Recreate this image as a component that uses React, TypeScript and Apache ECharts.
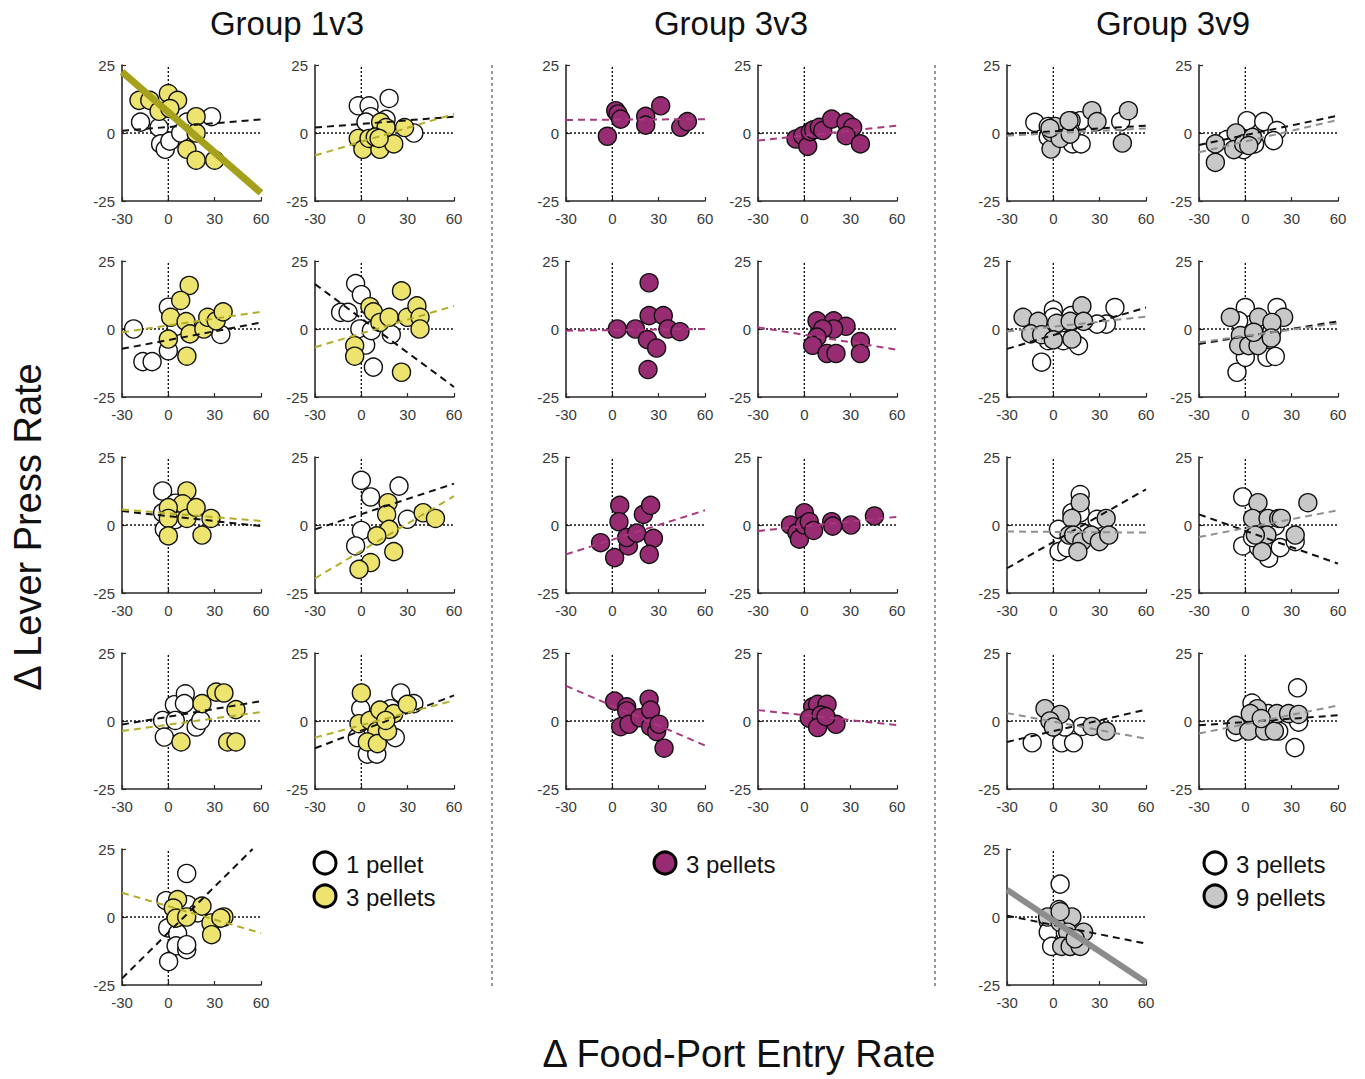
import React, { useEffect, useRef } from "react";
import * as echarts from "echarts";

// Axis ranges and ticks shared by every panel
const xRange = [-30, 60];
const yRange = [-25, 25];
const xStep = 30;
const yStep = 25;

const groupTitles = ["Group 1v3", "Group 3v3", "Group 3v9"];
const legend1v3 = ["1 pellet", "3 pellets"];
const legend3v3 = ["3 pellets"];
const legend3v9 = ["3 pellets", "9 pellets"];

// ---- Group 1v3: white = 1 pellet, yellow = 3 pellets ----
const g13p1One = [[-18, 4], [-6, 2], [-5, -4], [-2, -6], [28, 6], [1, -3], [12, 4], [1, 9], [8, 0]];
const g13p1Three = [[-19, 12], [-12, 12], [-6, 8], [0, 14.5], [6, 12], [1, 9], [18, 6], [18, 0], [12, -6], [18, -10], [30, -10]];
const g13p1FitOne = [[-30, 0.8], [60, 5]];
const g13p1FitThree = [[-30, 22.5], [60, -22]];

const g13p2One = [[-2, 10], [5, 10], [18, 12.7], [6, 6], [3, 4], [34, 0], [16, 5]];
const g13p2Three = [[-2, -2], [1, -6], [5, -2], [12, -6], [21, -4], [28, 2], [12.5, 4], [16, 2], [9, -1.5], [11.5, -2]];
const g13p2FitOne = [[-30, 2], [60, 6]];
const g13p2FitThree = [[-30, -8.3], [60, 7]];

const g13p3One = [[-22.5, 0], [-16.5, -12], [-10.5, -12], [0, 8], [0, -8], [5, 1], [34, -2]];
const g13p3Three = [[13.5, 16], [8, 10.5], [1.5, 4.3], [11.5, 2.7], [0, -3.7], [14, -1.8], [12, -10], [23, 0], [25.5, 4.3], [31, 3], [35.5, 6.3]];
const g13p3FitOne = [[-30, -7.3], [60, 2.4]];
const g13p3FitThree = [[-30, -1.2], [60, 6.3]];

const g13p4One = [[-3.7, 16.7], [0, 12.6], [-13.4, 6.1], [-8.6, 6.1], [-1, 0], [2.8, -5.9], [7.8, -14], [6.5, -0.6], [19.4, -2]];
const g13p4Three = [[5.6, 8.2], [7.8, 6.3], [12, 2.4], [18, 4.3], [26, 14], [26, -15.9], [29.8, 4.3], [36, 8.5], [38, 4.3], [38, 0], [-4.3, -6.1], [-4.3, -10]];
const g13p4FitOne = [[-30, 16.5], [60, -21.3]];
const g13p4FitThree = [[-30, -6.7], [60, 8.5]];

const g13p5One = [[-3.7, 12.5], [-3.7, 4.5], [-2.6, -1.6], [4.5, 2], [4.5, 8]];
const g13p5Three = [[12, 12.5], [9.3, 7.8], [0, 6.4], [0, 2.4], [12, 2.4], [18, 6.4], [27.6, 2.4], [21.8, -3.7], [0, -4]];
const g13p5FitOne = [[-30, 5.1], [60, -0.4]];
const g13p5FitThree = [[-30, 5.7], [60, 1.5]];

const g13p6One = [[0, 16.4], [6, 10.3], [24.4, 14.3], [0, -2], [-3.7, -7.7], [29.8, 2.1]];
const g13p6Three = [[17.3, 8.2], [16.4, 3.9], [18, -1.6], [10, -4], [21, -9.8], [6, -13.8], [-1.5, -16.3], [40, 4.5], [48, 2.4]];
const g13p6FitOne = [[-30, -1.6], [60, 15.2]];
const g13p6FitThree = [[-30, -19.6], [60, 10.6]];

const g13p7One = [[-3.7, 0.2], [-2.6, -5.9], [3.9, 6], [11, 10], [10.4, 6.4], [4.5, 0.2], [18, -2.2], [21, 0.2]];
const g13p7Three = [[8.2, -7.7], [21.8, 6.4], [31, 10.6], [36, 10.3], [43.8, 4.2], [38.4, -7.7], [43.8, -7.7]];
const g13p7FitOne = [[-30, -1.3], [60, 7.3]];
const g13p7FitThree = [[-30, -3.7], [60, 3.3]];

const g13p8One = [[-0.4, 4.5], [-2.6, -6.1], [3.9, -12.2], [10, -12.2], [25.5, 10.3], [34, 6.4], [22, -6.1], [19, 4.5]];
const g13p8Three = [[0, 10.3], [-1.5, -1], [5.6, 0.2], [12, 4], [10, -3.7], [3.9, -7.7], [10.4, -8.3], [17, -3.7], [21, 2.7], [29.8, 6.1], [15.8, 0.2]];
const g13p8FitOne = [[-30, -10], [60, 9.4]];
const g13p8FitThree = [[-30, -6.1], [60, 7.6]];

const g13p9One = [[11.9, 16], [-1.5, 6], [-0.4, -4], [6, -6], [5, -10.6], [11.9, -12], [11.9, -10.2], [0.2, -16.4], [12.5, 4.5], [19, 1.5]];
const g13p9Three = [[6, 6.4], [3.2, 3.3], [5, -0.4], [11.9, 0], [21.8, 4], [27.6, -2.2], [28, -6.5], [36, 0], [34, -0.4]];
const g13p9FitOne = [[-30, -22.6], [54.6, 25]];
const g13p9FitThree = [[-30, 8.9], [60, -5.9]];

// ---- Group 3v3: purple = 3 pellets ----
const g33p1 = [[-3.2, -1.2], [2.2, 8.2], [3.7, 7], [5.4, 5.1], [21.6, 6.1], [21.6, 2.9], [31.3, 10], [44.3, 2.1], [48.6, 4.2]];
const g33p1Fit = [[-30, 4.8], [60, 5.1]];
const g33p2 = [[-5.4, -2.2], [-1, -1], [2.2, -4.9], [3.9, 0.5], [6, 1.2], [9.7, 2.1], [11.9, 0.9], [17.7, 5.1], [27, 3.9], [31.3, 2.1], [27, -1], [36.3, -4]];
const g33p2Fit = [[-30, -2.8], [60, 2.7]];
const g33p3 = [[3.2, 0], [15, 0], [23.8, 17], [23.8, 4.9], [33, 4.9], [36, 0], [43.8, -1], [22.7, -3.9], [28.7, -7], [23.1, -14.9]];
const g33p3Fit = [[-30, -0.6], [60, 0]];
const g33p4 = [[8.2, 3], [19, 3], [27, 1], [19, 0], [11.9, 0], [8.2, -3], [5.4, -6], [14.7, -9], [20.5, -9], [36.3, -4.6], [36.3, -9]];
const g33p4Fit = [[-30, 0.6], [60, -7.6]];
const g33p5 = [[-7.6, -6.5], [4.8, 7.2], [4.3, 1.2], [1.5, -12], [10.4, -7.7], [9.3, -4.6], [15.8, -3], [20.1, 3.9], [24.8, 7.2], [26.6, -4.9], [23.9, -10.8]];
const g33p5Fit = [[-30, -10.8], [60, 5.4]];
const g33p6 = [[-9, 0], [-4.8, -2.8], [-3.2, -5.2], [0, 4.5], [0, 0], [3.2, 1.2], [6, -2], [17.7, 1.2], [18.4, -0.4], [30.2, 0], [45.4, 3.3]];
const g33p6Fit = [[-30, -2.2], [60, 3]];
const g33p7 = [[1.5, 7.3], [9.3, 5.2], [9.3, 3.7], [5.4, -2.1], [10.8, -1.2], [17.9, 1.2], [23.8, 8], [24.8, 4], [24.8, -2.1], [28.7, -3.9], [30.2, -1.2], [33.5, -10]];
const g33p7Fit = [[-30, 12.9], [60, -9]];
const g33p8 = [[5.4, 5.2], [8.6, 6.1], [14.7, 6.1], [3.2, 1], [10.8, 2.2], [8.6, -2.4], [20.5, -1.2], [14, 1.6]];
const g33p8Fit = [[-30, 4], [60, -1.5]];

// ---- Group 3v9: white = 3 pellets, grey = 9 pellets ----
const g39p1Three = [[-12, 3.9], [-3.3, 2.4], [17.4, 4.5], [11.5, 4.5], [12.4, -4], [18, -4], [43.6, 4.2], [-3.3, -1.6], [10.9, 0.9]];
const g39p1Nine = [[-1.5, -5.9], [-1.1, 0.2], [1.1, 2.4], [4.4, -2], [10.9, -0.4], [10.2, 4.5], [25, 8.2], [28.3, 4.2], [48.6, 8.2], [44.7, -3.7], [-2.2, 1.7]];
const g39p1FitThree = [[-30, -0.4], [60, 2.7]];
const g39p1FitNine = [[-30, -1], [60, 1.7]];

const g39p2Three = [[1.1, 4.5], [11.9, 4.2], [20.5, 0.9], [18.3, -2.8], [-4.7, -1], [-1.1, -6.1], [6, -4], [-11.9, -2.4]];
const g39p2Nine = [[-19.4, -4], [-19.4, -10.8], [-6, 0], [-7.5, -6.1], [-1.1, -4], [4.7, -1.6], [2.2, -4.6]];
const g39p2FitThree = [[-30, -4.4], [60, 6.4]];
const g39p2FitNine = [[-30, -7.1], [60, 4.8]];

const g39p3Three = [[0, 7], [0, 4.3], [-7.6, -12.2], [16.3, -6.1], [11.5, 4.9], [39.9, 7.9], [34.3, 1.8], [28.3, 1.8], [6.5, -4.3], [-3.3, -4.3]];
const g39p3Nine = [[-19.6, 4.3], [-9.8, 2.8], [-14.6, -1.8], [-7.6, -2.1], [2.2, 2.1], [0, -4], [10.9, 2.8], [12, -3.7], [18.5, 8.5], [19.6, 2.8]];
const g39p3FitThree = [[-30, -7.3], [60, 7.9]];
const g39p3FitNine = [[-30, -0.9], [60, 4.5]];

const g39p4Three = [[0, 7.9], [20.5, 7.9], [-5.4, -15.9], [0, -10.4], [14, -10.4], [19.4, -10.1], [-4.3, 3], [17.2, -0.6]];
const g39p4Nine = [[-9.7, 4.3], [8.6, 4.3], [24.8, 4.3], [17.2, 2.4], [-3.2, -2.4], [-4.3, -6.1], [2.2, -6.1], [8.2, -6.1], [16.8, -3.3], [5.4, -1.2]];
const g39p4FitThree = [[-30, -5.5], [60, 2.8]];
const g39p4FitNine = [[-30, -4.9], [60, 2.1]];

const g39p5Three = [[17.4, 11.2], [12, 4.5], [17.4, 4.5], [3.3, -1.6], [3.7, -9.8], [8.7, -8.3], [28.3, 2.1], [18.5, -2.8]];
const g39p5Nine = [[17.4, 8.2], [12, 2.4], [10.2, -3.7], [13.1, -3.7], [18.5, -6.1], [15.9, -9.8], [24.6, -3.7], [29.8, -6.1], [34.2, 2.4], [35.9, -3.7]];
const g39p5FitThree = [[-30, -15.9], [60, 13.1]];
const g39p5FitNine = [[-30, -2.4], [60, -2.8]];

const g39p6Three = [[-1.7, 10.3], [-1.7, -7.7], [8.6, -8.3], [15.1, -12.2], [22.6, -8.3], [32.3, -6.1], [19.4, -0.4], [4.7, -4.6]];
const g39p6Nine = [[8.2, 8.2], [4.7, 2.4], [14.7, 2.4], [21.6, 2.4], [23.3, 2.4], [8.6, -3.7], [14, -3.7], [10.8, -9.8], [32.3, -3.7], [40.5, 8.2], [6.5, -3.7]];
const g39p6FitThree = [[-30, 3.9], [60, -14.2]];
const g39p6FitNine = [[-30, -4.4], [60, 5.4]];

const g39p7Three = [[-13.7, -8], [5.4, -8], [13.1, -8], [18.5, -2], [3.3, 0.9], [7.6, -2.2]];
const g39p7Nine = [[-5.4, 4.5], [4.4, 2.4], [-2.2, 0], [0, -2.2], [25, -2], [34.2, -3.7]];
const g39p7FitThree = [[-30, -7.7], [60, 4.2]];
const g39p7FitNine = [[-30, 2.9], [60, -6.5]];

const g39p8Three = [[33.8, 12.2], [32.1, -9.8], [4.3, 6.6], [34.5, -0.4], [-6.5, -4], [21.6, -3.7], [15, 2.7]];
const g39p8Nine = [[-6, -1.6], [7.8, 4.5], [3.2, 2.7], [2.2, -3.7], [12.5, -3.7], [18.8, -3.7], [20.5, 2.7], [28, 2.7], [34.5, 2.4], [10.3, 0.9]];
const g39p8FitThree = [[-30, -1.6], [60, 2.1]];
const g39p8FitNine = [[-30, -4.6], [60, 5.7]];

const g39p9Three = [[4.4, 12.1], [3.7, 2.7], [-3.3, -1.6], [-3.3, -5.6], [-1.1, -10.8], [10.9, -10.8], [7.8, -5.9]];
const g39p9Nine = [[-3.7, 0], [4.4, -2], [12, 0], [9.3, -5.6], [19.6, -5.6], [5.4, -10.8], [10.9, -10.8], [17.4, -10.8], [14.1, -8], [4.4, 2]];
const g39p9FitThree = [[-30, 0.5], [60, -9.8]];
const g39p9FitNine = [[-30, 10], [60, -24]];

// ---- Styling ----
const WHITE = "#ffffff";
const YELLOW = "#ece46e";
const PURPLE = "#972c72";
const GREY = "#c8c8c8";
const OLIVE = "#a6a11c";
const YELLOW_FIT = "#b3ad2a";
const PURPLE_FIT = "#a8387f";
const GREY_FIT = "#8f8f8f";
const GREY_BOLD = "#8c8c8c";
const INK = "#111111";

const colLefts = [122, 315, 566, 758, 1007, 1199];
const rowTops = [65, 261, 457, 653, 849];
const PANEL_W = 139;
const PANEL_H = 136;

type Fit = { data: number[][]; color: string; solid?: boolean; width?: number };
type Panel = {
  col: number;
  row: number;
  sets: { data: number[][]; color: string }[];
  fits: Fit[];
};

const panels: Panel[] = [
  // Group 1v3
  { col: 0, row: 0, sets: [{ data: g13p1One, color: WHITE }, { data: g13p1Three, color: YELLOW }], fits: [{ data: g13p1FitOne, color: INK }, { data: g13p1FitThree, color: OLIVE, solid: true, width: 7 }] },
  { col: 1, row: 0, sets: [{ data: g13p2One, color: WHITE }, { data: g13p2Three, color: YELLOW }], fits: [{ data: g13p2FitOne, color: INK }, { data: g13p2FitThree, color: YELLOW_FIT }] },
  { col: 0, row: 1, sets: [{ data: g13p3One, color: WHITE }, { data: g13p3Three, color: YELLOW }], fits: [{ data: g13p3FitOne, color: INK }, { data: g13p3FitThree, color: YELLOW_FIT }] },
  { col: 1, row: 1, sets: [{ data: g13p4One, color: WHITE }, { data: g13p4Three, color: YELLOW }], fits: [{ data: g13p4FitOne, color: INK }, { data: g13p4FitThree, color: YELLOW_FIT }] },
  { col: 0, row: 2, sets: [{ data: g13p5One, color: WHITE }, { data: g13p5Three, color: YELLOW }], fits: [{ data: g13p5FitOne, color: INK }, { data: g13p5FitThree, color: YELLOW_FIT }] },
  { col: 1, row: 2, sets: [{ data: g13p6One, color: WHITE }, { data: g13p6Three, color: YELLOW }], fits: [{ data: g13p6FitOne, color: INK }, { data: g13p6FitThree, color: YELLOW_FIT }] },
  { col: 0, row: 3, sets: [{ data: g13p7One, color: WHITE }, { data: g13p7Three, color: YELLOW }], fits: [{ data: g13p7FitOne, color: INK }, { data: g13p7FitThree, color: YELLOW_FIT }] },
  { col: 1, row: 3, sets: [{ data: g13p8One, color: WHITE }, { data: g13p8Three, color: YELLOW }], fits: [{ data: g13p8FitOne, color: INK }, { data: g13p8FitThree, color: YELLOW_FIT }] },
  { col: 0, row: 4, sets: [{ data: g13p9One, color: WHITE }, { data: g13p9Three, color: YELLOW }], fits: [{ data: g13p9FitOne, color: INK }, { data: g13p9FitThree, color: YELLOW_FIT }] },
  // Group 3v3
  { col: 2, row: 0, sets: [{ data: g33p1, color: PURPLE }], fits: [{ data: g33p1Fit, color: PURPLE_FIT }] },
  { col: 3, row: 0, sets: [{ data: g33p2, color: PURPLE }], fits: [{ data: g33p2Fit, color: PURPLE_FIT }] },
  { col: 2, row: 1, sets: [{ data: g33p3, color: PURPLE }], fits: [{ data: g33p3Fit, color: PURPLE_FIT }] },
  { col: 3, row: 1, sets: [{ data: g33p4, color: PURPLE }], fits: [{ data: g33p4Fit, color: PURPLE_FIT }] },
  { col: 2, row: 2, sets: [{ data: g33p5, color: PURPLE }], fits: [{ data: g33p5Fit, color: PURPLE_FIT }] },
  { col: 3, row: 2, sets: [{ data: g33p6, color: PURPLE }], fits: [{ data: g33p6Fit, color: PURPLE_FIT }] },
  { col: 2, row: 3, sets: [{ data: g33p7, color: PURPLE }], fits: [{ data: g33p7Fit, color: PURPLE_FIT }] },
  { col: 3, row: 3, sets: [{ data: g33p8, color: PURPLE }], fits: [{ data: g33p8Fit, color: PURPLE_FIT }] },
  // Group 3v9
  { col: 4, row: 0, sets: [{ data: g39p1Three, color: WHITE }, { data: g39p1Nine, color: GREY }], fits: [{ data: g39p1FitThree, color: INK }, { data: g39p1FitNine, color: GREY_FIT }] },
  { col: 5, row: 0, sets: [{ data: g39p2Three, color: WHITE }, { data: g39p2Nine, color: GREY }], fits: [{ data: g39p2FitThree, color: INK }, { data: g39p2FitNine, color: GREY_FIT }] },
  { col: 4, row: 1, sets: [{ data: g39p3Three, color: WHITE }, { data: g39p3Nine, color: GREY }], fits: [{ data: g39p3FitThree, color: INK }, { data: g39p3FitNine, color: GREY_FIT }] },
  { col: 5, row: 1, sets: [{ data: g39p4Three, color: WHITE }, { data: g39p4Nine, color: GREY }], fits: [{ data: g39p4FitThree, color: INK }, { data: g39p4FitNine, color: GREY_FIT }] },
  { col: 4, row: 2, sets: [{ data: g39p5Three, color: WHITE }, { data: g39p5Nine, color: GREY }], fits: [{ data: g39p5FitThree, color: INK }, { data: g39p5FitNine, color: GREY_FIT }] },
  { col: 5, row: 2, sets: [{ data: g39p6Three, color: WHITE }, { data: g39p6Nine, color: GREY }], fits: [{ data: g39p6FitThree, color: INK }, { data: g39p6FitNine, color: GREY_FIT }] },
  { col: 4, row: 3, sets: [{ data: g39p7Three, color: WHITE }, { data: g39p7Nine, color: GREY }], fits: [{ data: g39p7FitThree, color: INK }, { data: g39p7FitNine, color: GREY_FIT }] },
  { col: 5, row: 3, sets: [{ data: g39p8Three, color: WHITE }, { data: g39p8Nine, color: GREY }], fits: [{ data: g39p8FitThree, color: INK }, { data: g39p8FitNine, color: GREY_FIT }] },
  { col: 4, row: 4, sets: [{ data: g39p9Three, color: WHITE }, { data: g39p9Nine, color: GREY }], fits: [{ data: g39p9FitThree, color: INK }, { data: g39p9FitNine, color: GREY_BOLD, solid: true, width: 6 }] },
];

const FONT = "'Liberation Sans', Arial, sans-serif";

function buildOption() {
  const grid: any[] = [];
  const xAxis: any[] = [];
  const yAxis: any[] = [];
  const series: any[] = [];
  const axisLine = { show: true, onZero: false, lineStyle: { color: "#2a2a2a", width: 1.6 } };
  const axisTick = { show: true, inside: true, length: 4, lineStyle: { color: "#2a2a2a", width: 1.2 } };
  const xLabel = { fontSize: 15, color: "#3a3a3a", fontFamily: FONT, margin: 10 };
  const yLabel = { fontSize: 15, color: "#3a3a3a", fontFamily: FONT, margin: 7 };

  panels.forEach((p, i) => {
    grid.push({ left: colLefts[p.col], top: rowTops[p.row], width: PANEL_W, height: PANEL_H, containLabel: false });
    xAxis.push({ gridIndex: i, type: "value", min: xRange[0], max: xRange[1], interval: xStep, axisLine, axisTick, axisLabel: xLabel, splitLine: { show: false } });
    yAxis.push({ gridIndex: i, type: "value", min: yRange[0], max: yRange[1], interval: yStep, axisLine, axisTick, axisLabel: yLabel, splitLine: { show: false } });

    const dotted = { color: "#111", width: 1.4, type: [2, 2] };
    series.push({ type: "line", xAxisIndex: i, yAxisIndex: i, data: [[xRange[0], 0], [xRange[1], 0]], symbol: "none", lineStyle: dotted, silent: true, z: 1 });
    series.push({ type: "line", xAxisIndex: i, yAxisIndex: i, data: [[0, yRange[0]], [0, yRange[1]]], symbol: "none", lineStyle: dotted, silent: true, z: 1 });

    p.sets.forEach((s) => {
      series.push({
        type: "scatter", xAxisIndex: i, yAxisIndex: i, data: s.data, symbol: "circle", symbolSize: 18,
        itemStyle: { color: s.color, borderColor: INK, borderWidth: 1.4, opacity: 1 }, z: 2,
      });
    });
    p.fits.forEach((f) => {
      series.push({
        type: "line", xAxisIndex: i, yAxisIndex: i, data: f.data, symbol: "none", clip: true,
        lineStyle: { color: f.color, width: f.width ?? 2, type: f.solid ? "solid" : [7, 5] }, z: 3,
      });
    });
  });

  const titleXs = [287, 731, 1173];
  const graphic: any[] = [];
  groupTitles.forEach((t, k) => {
    graphic.push({ type: "text", x: titleXs[k], y: 23, style: { text: t, fontSize: 33, fontFamily: FONT, fill: "#111", align: "center", verticalAlign: "middle" } });
  });
  [492, 935].forEach((x) => {
    graphic.push({ type: "line", shape: { x1: x, y1: 65, x2: x, y2: 987 }, style: { stroke: "#333", lineWidth: 1, lineDash: [3, 3] } });
  });
  graphic.push({ type: "text", x: 28, y: 527, rotation: Math.PI / 2, style: { text: "Δ Lever Press Rate", fontSize: 38, fontFamily: FONT, fill: "#111", align: "center", verticalAlign: "middle" } });
  graphic.push({ type: "text", x: 739, y: 1054, style: { text: "Δ Food-Port Entry Rate", fontSize: 38, fontFamily: FONT, fill: "#111", align: "center", verticalAlign: "middle" } });

  const legendEntry = (cx: number, cy: number, fill: string, label: string) => {
    graphic.push({ type: "circle", shape: { cx, cy, r: 11 }, style: { fill, stroke: "#000", lineWidth: 3 } });
    graphic.push({ type: "text", x: cx + 21, y: cy + 1, style: { text: label, fontSize: 24, fontFamily: FONT, fill: "#111", verticalAlign: "middle" } });
  };
  legendEntry(325, 863, WHITE, legend1v3[0]);
  legendEntry(325, 896, YELLOW, legend1v3[1]);
  legendEntry(665, 863, PURPLE, legend3v3[0]);
  legendEntry(1215, 863, WHITE, legend3v9[0]);
  legendEntry(1215, 896, GREY, legend3v9[1]);

  return { animation: false, backgroundColor: "#fff", grid, xAxis, yAxis, series, graphic };
}

export default function App() {
  const ref = useRef<HTMLDivElement>(null);
  useEffect(() => {
    if (!ref.current) return;
    const chart = echarts.init(ref.current, undefined, { renderer: "svg" });
    chart.setOption(buildOption() as any);
    return () => chart.dispose();
  }, []);
  return <div ref={ref} style={{ position: "absolute", left: 0, top: 0, width: 1365, height: 1079 }} />;
}
